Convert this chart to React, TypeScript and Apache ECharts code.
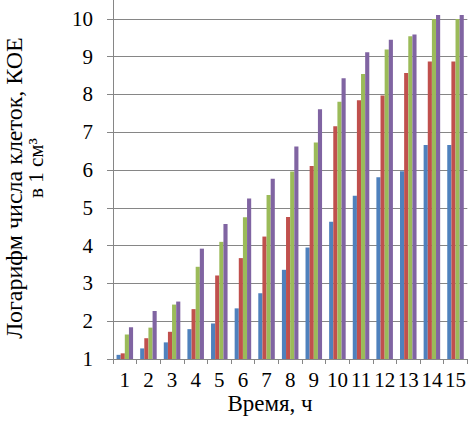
import React, { useEffect, useRef } from "react";
import * as echarts from "echarts";

const categories = ["1", "2", "3", "4", "5", "6", "7", "8", "9", "10", "11", "12", "13", "14", "15"];
const seriesBlue = [1.11, 1.28, 1.44, 1.79, 1.94, 2.34, 2.74, 3.36, 3.95, 4.63, 5.32, 5.81, 5.97, 6.66, 6.66];
const seriesRed = [1.15, 1.55, 1.72, 2.32, 3.21, 3.67, 4.24, 4.76, 6.11, 7.16, 7.85, 7.97, 8.57, 8.87, 8.87];
const seriesGreen = [1.65, 1.83, 2.44, 3.44, 4.1, 4.75, 5.34, 5.96, 6.73, 7.81, 8.54, 9.19, 9.54, 10.0, 10.0];
const seriesPurple = [1.84, 2.27, 2.52, 3.92, 4.57, 5.25, 5.77, 6.62, 7.61, 8.43, 9.12, 9.45, 9.59, 10.1, 10.1];
const yTitle1 = "Логарифм числа клеток, КОЕ";
const yTitle2 = "в 1 см³";
const xTitle = "Время, ч";

const colors = ["#4F81BD", "#C0504D", "#9BBB59", "#8064A2"];
const font = "'Liberation Serif', 'Times New Roman', serif";

export default function App() {
  const ref = useRef<HTMLDivElement>(null);
  useEffect(() => {
    const chart = echarts.init(ref.current!, null, { renderer: "svg" });
    const mk = (data: number[], i: number) => ({
      type: "bar",
      data,
      barGap: "0%",
      barCategoryGap: "30%",
      itemStyle: { color: colors[i] },
    });
    chart.setOption({
      animation: false,
      grid: { left: 113, right: 1, top: 0, bottom: 73 },
      xAxis: {
        type: "category",
        data: categories,
        axisLine: { lineStyle: { color: "#868686", width: 1 } },
        axisTick: { show: true, length: 5, lineStyle: { color: "#868686" } },
        axisLabel: { color: "#000", fontFamily: font, fontSize: 21, margin: 10, interval: 0 },
      },
      yAxis: {
        type: "value",
        min: 1,
        max: 10.5,
        interval: 1,
        axisLine: { show: true, lineStyle: { color: "#868686", width: 1 } },
        axisTick: { show: true, length: 6, lineStyle: { color: "#868686" } },
        axisLabel: {
          color: "#000",
          fontFamily: font,
          fontSize: 21,
          margin: 20,
          showMaxLabel: false,
          formatter: (v: number) => (Number.isInteger(v) ? String(v) : ""),
        },
        splitLine: { show: true, showMaxLine: false, lineStyle: { color: "#868686", width: 1 } },
      },
      series: [
        mk(seriesBlue, 0),
        mk(seriesRed, 1),
        mk(seriesGreen, 2),
        mk(seriesPurple, 3),
      ],
      graphic: [
        {
          type: "text",
          x: 14,
          y: 188,
          rotation: Math.PI / 2,
          style: { text: yTitle1, font: `24px ${font}`, fill: "#000", align: "center", verticalAlign: "middle" },
        },
        {
          type: "text",
          x: 36,
          y: 168,
          rotation: Math.PI / 2,
          style: { text: yTitle2, font: `21px ${font}`, fill: "#000", align: "center", verticalAlign: "middle" },
        },
        {
          type: "text",
          x: 270,
          y: 403,
          style: { text: xTitle, font: `23px ${font}`, fill: "#000", align: "center", verticalAlign: "middle" },
        },
      ],
    });
    return () => chart.dispose();
  }, []);
  return <div ref={ref} style={{ width: 469, height: 432, position: "absolute", left: 0, top: 0 }} />;
}
